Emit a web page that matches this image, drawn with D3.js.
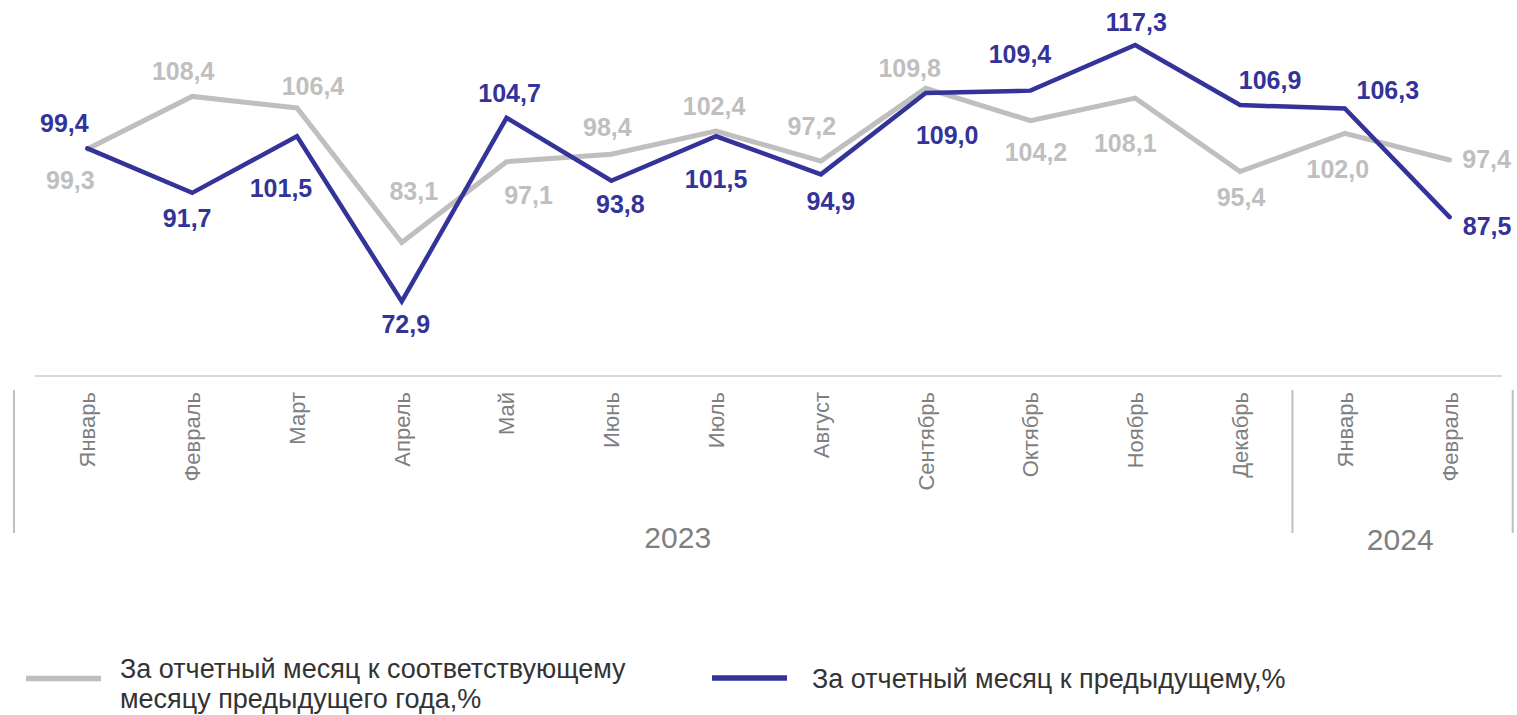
<!DOCTYPE html>
<html><head><meta charset="utf-8">
<script src="https://cdn.jsdelivr.net/npm/d3@7"></script>
<style>
html,body{margin:0;padding:0;background:#fff;}
svg{display:block;font-family:"Liberation Sans",Arial,sans-serif;}
</style></head>
<body><svg id="chart" width="1517" height="715"></svg>
<script>
// ---- data ----
const months = ["Январь","Февраль","Март","Апрель","Май","Июнь","Июль","Август","Сентябрь","Октябрь","Ноябрь","Декабрь","Январь","Февраль"];
const years = ["2023","2024"];
const yearStart = [0, 12];   // first month index of each year
const yearEnd = [11, 13];    // last month index of each year
const prevYearValues = [99.3,108.4,106.4,83.1,97.1,98.4,102.4,97.2,109.8,104.2,108.1,95.4,102.0,97.4];
const prevMonthValues = [99.4,91.7,101.5,72.9,104.7,93.8,101.5,94.9,109.0,109.4,117.3,106.9,106.3,87.5];
const seriesNames = ["За отчетный месяц к соответствующему|месяцу предыдущего года,%","За отчетный месяц к предыдущему,%"];

// ---- layout (label offsets from points, px) ----
const grayOff = [[-17,31.5],[-9,-25],[16,-22],[12,-51.5],[22,33.5],[-4,-27],[-2,-25.5],[-9,-35],[-16,-20],[5.5,31.5],[-10,45],[1,25.5],[-7,36],[37,-1]];
const blueOff = [[-23,-25.5],[-5,25],[-16,51.5],[4,22.5],[3,-25],[9,23.5],[0,43],[10,26.5],[21.5,42],[-10.5,-37],[1,-22.5],[30,-25],[43,-18],[37.5,9]];
const yearDx = [14, 3];

const GRAY = "#BFBFBF", BLUE = "#333399";
const svg = d3.select("#chart");
const idx = d3.range(months.length);
const x = d3.scaleBand().domain(idx).range([35, 1502]);
const cx = i => x(i) + x.bandwidth()/2;
const y = d3.scaleLinear().domain([60, 120]).range([376, 29.4]);

// axis line
svg.append("line").attr("x1",35).attr("x2",1502).attr("y1",y(60)).attr("y2",y(60))
  .attr("stroke","#D9D9D9").attr("stroke-width",2);

// separators
[14, (x(12)+x(11)+x.bandwidth())/2, 1512.7].forEach(sx=>{
  svg.append("line").attr("x1",sx).attr("x2",sx).attr("y1",390).attr("y2",533)
    .attr("stroke",GRAY).attr("stroke-width",2);
});

// month labels
svg.append("g").selectAll("text").data(idx).join("text")
  .attr("transform",i=>`translate(${cx(i)},392) rotate(-90)`)
  .attr("text-anchor","end").attr("dy","0.36em")
  .attr("font-size",22).attr("fill","#7F7F7F")
  .text(i=>months[i]);

// year labels
years.forEach((yr,k)=>{
  const xc = (x(yearStart[k]) + x(yearEnd[k]) + x.bandwidth())/2 + yearDx[k];
  svg.append("text").attr("x",xc).attr("y",k===0?548:550).attr("text-anchor","middle")
    .attr("font-size",30).attr("fill","#7F7F7F").text(yr);
});

const line = d3.line().x((d,i)=>cx(i)).y(d=>y(d));
svg.append("path").datum(prevYearValues).attr("d",line).attr("fill","none")
  .attr("stroke",GRAY).attr("stroke-width",5).attr("stroke-linejoin","miter").attr("stroke-linecap","round");
svg.append("path").datum(prevMonthValues).attr("d",line).attr("fill","none")
  .attr("stroke",BLUE).attr("stroke-width",4.5).attr("stroke-linejoin","miter").attr("stroke-linecap","round");

const fmt = v => d3.format(".1f")(v).replace(".",",");
const FS = 25;
function labels(vals, off, color){
  svg.append("g").selectAll("text").data(vals).join("text")
    .attr("x",(d,i)=>cx(i)+off[i][0])
    .attr("y",(d,i)=>y(d)+off[i][1]+0.358*FS)
    .attr("text-anchor","middle").attr("font-size",FS).attr("font-weight","bold")
    .attr("fill",color).text(d=>fmt(d));
}
labels(prevYearValues, grayOff, GRAY);
labels(prevMonthValues, blueOff, BLUE);

// legend
const LFS = 27;
const lg = svg.append("g");
lg.append("line").attr("x1",26).attr("x2",101).attr("y1",678.5).attr("y2",678.5).attr("stroke",GRAY).attr("stroke-width",5.5);
const t1 = lg.append("text").attr("x",120).attr("y",678).attr("font-size",LFS).attr("fill","#333");
seriesNames[0].split("|").forEach((s,k)=>{
  t1.append("tspan").attr("x",120).attr("y",678+k*30).text(s);
});
lg.append("line").attr("x1",712).attr("x2",787).attr("y1",678).attr("y2",678).attr("stroke",BLUE).attr("stroke-width",5.5);
lg.append("text").attr("x",812).attr("y",688).attr("font-size",LFS).attr("fill","#333").text(seriesNames[1]);
</script></body></html>
